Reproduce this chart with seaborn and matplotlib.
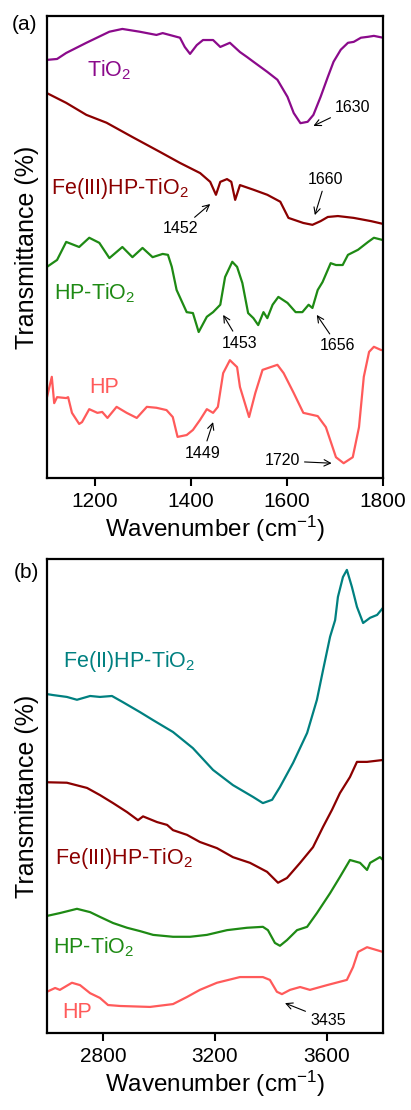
import numpy as np
import pandas as pd
import matplotlib
matplotlib.use("Agg")
import matplotlib.pyplot as plt
import seaborn as sns

# ---------------- data: panel (a), 1100-1800 cm-1 (offset transmittance, a.u.) ----------------
a_tio2_x = [1100, 1121, 1140, 1182, 1230, 1257, 1293, 1328, 1341, 1377, 1387, 1398, 1412, 1425,
            1446, 1461, 1481, 1502, 1517, 1530, 1559, 1580, 1601, 1614, 1628, 1643, 1655, 1670,
            1685, 1697, 1712, 1727, 1739, 1754, 1769, 1781, 1800]
a_tio2_y = [90.5, 90.7, 92.0, 94.2, 96.6, 97.2, 96.6, 95.9, 96.3, 95.3, 93.3, 91.8, 93.7, 94.8,
            94.8, 93.3, 94.2, 92.2, 91.1, 90.1, 87.9, 86.2, 82.5, 79.0, 76.8, 77.1, 78.6, 82.5,
            86.8, 90.1, 92.7, 94.2, 94.4, 95.3, 95.5, 95.7, 95.3]

a_fe3_x = [1100, 1140, 1182, 1224, 1278, 1335, 1377, 1419, 1440, 1452, 1461, 1475, 1484, 1492,
           1502, 1530, 1559, 1586, 1603, 1634, 1653, 1670, 1685, 1706, 1739, 1775, 1800]
a_fe3_y = [83.3, 81.2, 78.6, 76.9, 73.8, 70.6, 68.2, 66.0, 64.1, 61.3, 64.1, 64.7, 64.1, 60.2,
           63.4, 62.4, 61.3, 59.8, 56.3, 55.2, 54.8, 55.6, 56.5, 56.7, 56.3, 55.6, 55.0]

a_hptio2_x = [1100, 1121, 1140, 1167, 1188, 1209, 1230, 1257, 1278, 1299, 1320, 1341, 1352, 1360,
              1370, 1391, 1404, 1416, 1433, 1446, 1461, 1471, 1486, 1496, 1507, 1519, 1530, 1540,
              1551, 1559, 1570, 1582, 1601, 1618, 1632, 1645, 1653, 1664, 1674, 1691, 1702, 1716,
              1727, 1748, 1769, 1781, 1800]
a_hptio2_y = [45.7, 47.2, 51.1, 50.0, 52.0, 50.9, 47.6, 50.0, 47.8, 49.8, 47.8, 48.5, 48.3, 45.7,
              40.7, 35.9, 35.7, 31.6, 34.9, 35.9, 37.5, 43.5, 46.8, 45.7, 42.2, 35.7, 34.6, 33.1,
              35.9, 34.6, 37.5, 39.2, 37.9, 35.9, 35.9, 37.5, 36.8, 40.7, 42.4, 46.5, 46.1, 46.1,
              48.3, 49.4, 51.1, 52.0, 51.5]

a_hp_x = [1100, 1110, 1115, 1121, 1140, 1144, 1152, 1167, 1173, 1188, 1205, 1215, 1226, 1245,
          1266, 1287, 1308, 1328, 1349, 1362, 1372, 1391, 1404, 1419, 1433, 1446, 1456, 1467,
          1481, 1496, 1502, 1521, 1534, 1549, 1580, 1593, 1614, 1634, 1664, 1681, 1702, 1718,
          1737, 1750, 1760, 1771, 1781, 1796, 1800]
a_hp_y = [17.5, 21.9, 16.2, 17.5, 17.3, 17.5, 14.1, 11.7, 12.1, 14.9, 14.1, 14.3, 13.0, 15.4,
          14.1, 13.0, 15.4, 15.2, 14.7, 13.2, 8.9, 9.3, 10.4, 12.6, 14.9, 14.1, 15.4, 22.7,
          25.5, 24.0, 19.7, 13.2, 18.4, 23.4, 24.5, 22.7, 18.4, 14.1, 13.4, 11.0, 4.5, 3.2,
          4.5, 11.0, 21.9, 27.3, 28.4, 27.7, 27.7]

# ---------------- data: panel (b), 2600-3800 cm-1 ----------------
b_fe2_x = [2600, 2621, 2671, 2707, 2754, 2789, 2832, 2871, 2932, 2979, 3050, 3121, 3193, 3264,
           3336, 3371, 3404, 3432, 3479, 3529, 3564, 3586, 3611, 3629, 3639, 3657, 3671, 3689,
           3707, 3729, 3754, 3779, 3800]
b_fe2_y = [71.5, 71.3, 70.9, 70.3, 71.1, 70.9, 71.1, 69.8, 67.7, 66.0, 63.5, 60.1, 55.5, 52.3,
           49.8, 48.5, 49.2, 51.9, 57.0, 63.3, 70.3, 76.6, 83.6, 87.1, 92.0, 96.2, 97.7, 94.1,
           89.9, 86.5, 87.6, 88.2, 89.7]

b_fe3_x = [2600, 2671, 2743, 2789, 2836, 2886, 2925, 2943, 2993, 3029, 3050, 3100, 3146, 3207,
           3264, 3325, 3386, 3425, 3457, 3504, 3550, 3586, 3618, 3646, 3682, 3707, 3743, 3800]
b_fe3_y = [52.9, 52.8, 51.7, 50.2, 48.5, 46.6, 44.9, 45.7, 44.5, 43.9, 42.8, 41.8, 40.3, 39.0,
           37.1, 35.9, 34.0, 31.7, 32.7, 35.9, 39.2, 43.5, 47.1, 50.6, 54.0, 57.2, 57.2, 57.6]

b_hptio2_x = [2600, 2646, 2707, 2754, 2789, 2836, 2886, 2932, 2979, 3050, 3111, 3171, 3243, 3314,
              3371, 3389, 3414, 3432, 3457, 3493, 3529, 3564, 3611, 3646, 3682, 3718, 3743, 3754,
              3789, 3800]
b_hptio2_y = [24.7, 25.3, 26.2, 25.5, 24.5, 23.2, 22.2, 21.5, 20.7, 20.3, 20.3, 20.7, 21.7, 22.2,
              22.4, 21.7, 19.0, 18.4, 19.6, 21.7, 22.4, 25.3, 29.5, 32.9, 36.5, 35.9, 34.4, 35.9,
              37.1, 36.5]

b_hp_x = [2600, 2629, 2646, 2689, 2718, 2754, 2789, 2818, 2861, 2968, 3050, 3100, 3146, 3207,
          3289, 3371, 3396, 3421, 3439, 3468, 3504, 3539, 3600, 3671, 3693, 3711, 3743, 3800]
b_hp_y = [8.7, 9.5, 9.1, 10.6, 10.1, 8.4, 7.4, 5.9, 5.7, 5.5, 6.1, 7.6, 9.1, 10.6,
          11.8, 11.8, 11.2, 8.7, 8.2, 9.1, 9.7, 9.1, 10.1, 11.2, 13.9, 17.1, 18.1, 17.1]

a_ticks = [1200, 1400, 1600, 1800]
b_ticks = [2800, 3200, 3600]

# ---------------- style ----------------
sns.set_style("white")
plt.rcParams["font.family"] = ["Liberation Sans", "DejaVu Sans"]
plt.rcParams["mathtext.fontset"] = "custom"
plt.rcParams["mathtext.rm"] = "Liberation Sans"
plt.rcParams["mathtext.it"] = "Liberation Sans"
plt.rcParams["mathtext.default"] = "regular"
plt.rcParams["text.color"] = "black"
plt.rcParams["axes.labelcolor"] = "black"
plt.rcParams["xtick.color"] = "black"
plt.rcParams["ytick.color"] = "black"

C_TIO2 = "#8B0A8B"
C_FE3 = "#8B0000"
C_GREEN = "#1E8A14"
C_HP = "#FF5A5A"
C_TEAL = "#008080"

fig = plt.figure(figsize=(4.11, 11.10), dpi=100)
ax_a = fig.add_axes([47 / 411, 1 - 478 / 1110, 336 / 411, 462 / 1110])
ax_b = fig.add_axes([47 / 411, 1 - 1033 / 1110, 336 / 411, 474 / 1110])

LW = 1.6
def draw(ax, x, y, c):
    sns.lineplot(x=x, y=y, ax=ax, color=c, lw=LW, estimator=None, sort=False)

draw(ax_a, a_tio2_x, a_tio2_y, C_TIO2)
draw(ax_a, a_fe3_x, a_fe3_y, C_FE3)
draw(ax_a, a_hptio2_x, a_hptio2_y, C_GREEN)
draw(ax_a, a_hp_x, a_hp_y, C_HP)

draw(ax_b, b_fe2_x, b_fe2_y, C_TEAL)
draw(ax_b, b_fe3_x, b_fe3_y, C_FE3)
draw(ax_b, b_hptio2_x, b_hptio2_y, C_GREEN)
draw(ax_b, b_hp_x, b_hp_y, C_HP)

for ax, xlim, ticks in [(ax_a, (1100, 1800), a_ticks), (ax_b, (2600, 3800), b_ticks)]:
    ax.set_xlim(*xlim)
    ax.set_ylim(0, 100)
    ax.set_xticks(ticks)
    ax.set_yticks([])
    for s in ax.spines.values():
        s.set_visible(True)
        s.set_linewidth(1.6)
        s.set_color("black")
    ax.tick_params(axis="x", direction="out", length=6, width=1.5, labelsize=15, pad=4,
                   bottom=True, colors="black")
    ax.set_xlabel("Wavenumber (cm$^{-1}$)", fontsize=17.5, labelpad=2, color="black")
    ax.set_ylabel("Transmittance (%)", fontsize=18, labelpad=6, color="black")

LS = 15.5
ax_a.text(1184, 88.3, "TiO$_2$", color=C_TIO2, fontsize=LS, va="center", ha="left")
ax_a.text(1108, 62.6, "Fe(III)HP-TiO$_2$", color=C_FE3, fontsize=LS, va="center", ha="left")
ax_a.text(1115, 40.1, "HP-TiO$_2$", color=C_GREEN, fontsize=LS, va="center", ha="left")
ax_a.text(1188, 19.5, "HP", color=C_HP, fontsize=LS, va="center", ha="left")

ax_b.text(2657, 78.3, "Fe(II)HP-TiO$_2$", color=C_TEAL, fontsize=LS, va="center", ha="left")
ax_b.text(2629, 36.9, "Fe(III)HP-TiO$_2$", color=C_FE3, fontsize=LS, va="center", ha="left")
ax_b.text(2621, 18.1, "HP-TiO$_2$", color=C_GREEN, fontsize=LS, va="center", ha="left")
ax_b.text(2654, 4.4, "HP", color=C_HP, fontsize=LS, va="center", ha="left")

AS = 11.5
arrow = dict(arrowstyle="->", color="black", lw=0.8, shrinkA=1, shrinkB=0)
def ann(ax, s, tip, txt):
    ax.annotate(s, xy=tip, xytext=txt, fontsize=AS, ha="center", va="center",
                color="black", arrowprops=arrow)

ann(ax_a, "1630", (1655, 76.2), (1737, 80.3))
ann(ax_a, "1660", (1658, 56.9), (1681, 64.7))
ann(ax_a, "1452", (1440, 59.3), (1379, 53.9))
ann(ax_a, "1453", (1467, 35.3), (1502, 29.2))
ann(ax_a, "1656", (1662, 35.3), (1706, 28.6))
ann(ax_a, "1449", (1446, 12.1), (1425, 5.4))
ann(ax_a, "1720", (1693, 3.2), (1590, 3.7))
ann(ax_b, "3435", (3450, 6.3), (3603, 2.7))

fig.text(24.5 / 411, 1 - 25 / 1110, "(a)", fontsize=15, ha="center", va="center", color="black")
fig.text(26.5 / 411, 1 - 573 / 1110, "(b)", fontsize=15, ha="center", va="center", color="black")

fig.savefig("out.png", dpi=100)
